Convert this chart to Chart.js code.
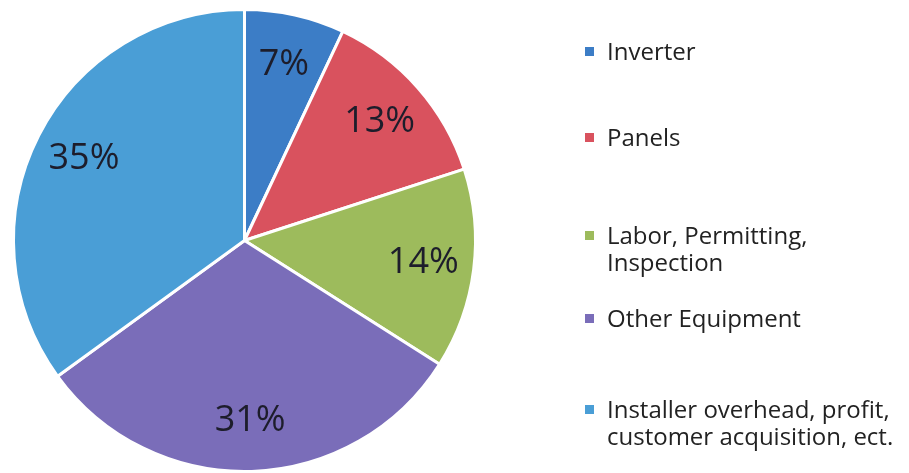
<!DOCTYPE html>
<html>
<head>
<meta charset="utf-8">
<script src="https://cdn.jsdelivr.net/npm/chart.js@4"></script>
<style>
  html, body { margin: 0; padding: 0; background: #fff; }
  #wrap { position: relative; width: 909px; height: 473px; }
  #legend { position: absolute; left: 0; top: 0; width: 909px; height: 473px; pointer-events: none; }
  .item { position: absolute; left: 585px; font-family: "Open Sans", sans-serif; font-size: 24px; line-height: 27px; color: #222; }
  .item span.box { position: absolute; left: 0; top: 10px; width: 9px; height: 9px; }
  .item div { margin-left: 22px; white-space: nowrap; }
</style>
</head>
<body>
<div id="wrap">
  <canvas id="pie" width="909" height="473"></canvas>
  <div id="legend"></div>
</div>
<script>
// Datos del gráfico
const categories = ['Inverter', 'Panels', 'Labor, Permitting, Inspection', 'Other Equipment', 'Installer overhead, profit, customer acquisition, ect.'];
const legendLines = [['Inverter'], ['Panels'], ['Labor, Permitting,', 'Inspection'], ['Other Equipment'], ['Installer overhead, profit,', 'customer acquisition, ect.']];
const shares = [7, 13, 14, 31, 35];
const sliceColors = ['#3c7dc6', '#d9525e', '#9dbb5c', '#7a6db9', '#4a9ed6'];

// Posición vertical de cada entrada de la leyenda
const legendTops = [37, 123, 221, 304, 395];

// Etiquetas de porcentaje dentro de cada porción
const percentLabels = {
    id: 'percentLabels',
    afterDatasetsDraw(chart) {
        const ctx = chart.ctx;
        const data = chart.data.datasets[0].data;
        ctx.save();
        ctx.font = '36px "Open Sans", sans-serif';
        ctx.fillStyle = '#1d1d2b';
        ctx.textAlign = 'center';
        ctx.textBaseline = 'middle';
        chart.getDatasetMeta(0).data.forEach((arc, i) => {
            const p = arc.getProps(['x', 'y', 'startAngle', 'endAngle', 'outerRadius'], true);
            const mid = (p.startAngle + p.endAngle) / 2;
            const r = p.outerRadius * 0.78;
            ctx.fillText(data[i] + '%', p.x + Math.cos(mid) * r, p.y + Math.sin(mid) * r);
        });
        ctx.restore();
    }
};

new Chart(document.getElementById('pie'), {
    type: 'pie',
    data: {
        labels: categories,
        datasets: [{
            data: shares,
            backgroundColor: sliceColors,
            borderColor: '#fff',
            borderWidth: 3
        }]
    },
    options: {
        responsive: false,
        animation: false,
        layout: { padding: { left: 10, top: 8, right: 430, bottom: 0 } },
        plugins: {
            legend: { display: false },
            tooltip: { enabled: false }
        }
    },
    plugins: [percentLabels]
});

// Leyenda a la derecha
const legend = document.getElementById('legend');
legendLines.forEach((lines, i) => {
    const item = document.createElement('div');
    item.className = 'item';
    item.style.top = legendTops[i] + 'px';
    item.innerHTML = '<span class="box" style="background:' + sliceColors[i] + '"></span>' +
        lines.map(l => '<div>' + l + '</div>').join('');
    legend.appendChild(item);
});
</script>
</body>
</html>
